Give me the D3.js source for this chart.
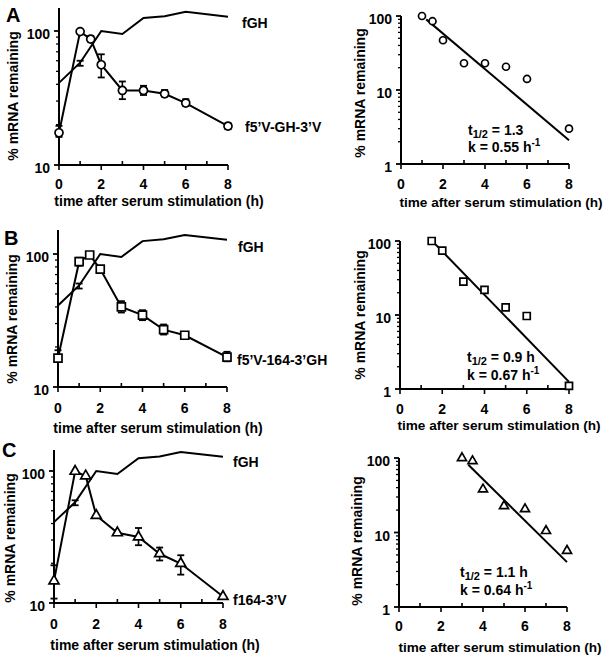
<!DOCTYPE html>
<html><head><meta charset="utf-8">
<script src="https://cdn.jsdelivr.net/npm/d3@7"></script>
<style>
body{margin:0;background:#fff;}
text{font-family:"Liberation Sans",Arial,Helvetica,sans-serif;font-weight:bold;fill:#000;}
</style></head>
<body><svg id="c" width="609" height="662"></svg>
<script>
// ---------- DATA ----------
const hours = [0, 1, 1.5, 2, 3, 4, 5, 6, 8];
const fghHours = [0, 1, 2, 3, 4, 5, 6, 8];
const fghValues = [41, 58, 100, 95, 125, 129, 139, 128];
const fghErrLow = [null, 55, null, null, null, null, null, null];
const fghErrHigh = [null, 60, null, null, null, null, null, null];

const aValues = [17.4, 99, 87, 56, 36, 36, 34, 29, 19.5];
const aErrLow = [16.2, null, 83, 45, 31, 33.3, 32.4, 27.6, 18.5];
const aErrHigh = [19.6, null, 92, 67, 42, 39, 36.3, 31, 20.5];

const bValues = [16.5, 87.5, 98.3, 77, 40, 34.7, 27, 24.5, 16.8];
const bErrLow = [15.4, 81.7, null, null, 36.3, 31.8, 24.8, null, 15.6];
const bErrHigh = [18.9, 93.8, null, null, 44.2, 37.8, 29.5, null, 18.4];

const cValues = [14.7, 99.4, 91.7, 46, 34, 31.6, 23.6, 19.9, 11.2];
const cErrLow = [10.8, null, null, null, null, 27.4, 21, 16.4, null];
const cErrHigh = [19.3, null, null, null, null, 37, 26.3, 23, null];

const rAHours = [1, 1.5, 2, 3, 4, 5, 6, 8];
const rAValues = [100, 85, 47, 23, 23, 20.6, 14.1, 3.0];
const rBHours = [1.5, 2, 3, 4, 5, 6, 8];
const rBValues = [100, 74, 28.2, 21.8, 12.7, 9.7, 1.1];
const rCHours = [3, 3.5, 4, 5, 6, 7, 8];
const rCValues = [100, 91, 38, 22.7, 20.6, 10.5, 5.7];

const fitAHours = [1.2, 8], fitAValues = [90, 2.1];
const fitBHours = [1.6, 8], fitBValues = [95, 1.25];
const fitCHours = [3.3, 8], fitCValues = [81, 4.0];

const xTicks = [0, 2, 4, 6, 8];
const xMinor = [1, 3, 5, 7];
const leftYTicks = [10, 100];
const rightYTicks = [1, 10, 100];
const seriesNames = ["f5’V-GH-3’V", "f5’V-164-3’GH", "f164-3’V"];
const halfLives = ["1.3", "0.9 h", "1.1 h"];
const rates = ["0.55", "0.67", "0.64"];
const panelLetters = ["A", "B", "C"];
const xTitle = "time after serum stimulation (h)";
const yTitle = "% mRNA remaining";

// ---------- DRAW ----------
const svg = d3.select("#c");

function marker(g, type, x, y, size) {
  let sym;
  if (type === "circle") sym = d3.symbol(d3.symbolCircle, Math.PI * size * size / 4);
  else if (type === "square") sym = d3.symbol(d3.symbolSquare, size * size);
  else sym = d3.symbol(d3.symbolTriangle, Math.sqrt(3) / 4 * size * size);
  g.append("path").attr("d", sym()).attr("transform", `translate(${x},${y})`)
    .attr("fill", "#fff").attr("stroke", "#000").attr("stroke-width", 1.7);
}

function xAxis(g, x, yBase, labelY) {
  g.append("line").attr("x1", x(0)).attr("x2", x(8)).attr("y1", yBase).attr("y2", yBase)
    .attr("stroke", "#000").attr("stroke-width", 2);
  xTicks.forEach(t => g.append("line").attr("x1", x(t)).attr("x2", x(t)).attr("y1", yBase).attr("y2", yBase + 5)
    .attr("stroke", "#000").attr("stroke-width", 1.6));
  xMinor.forEach(t => g.append("line").attr("x1", x(t)).attr("x2", x(t)).attr("y1", yBase).attr("y2", yBase - 4)
    .attr("stroke", "#000").attr("stroke-width", 1.6));
  xTicks.forEach(t => g.append("text").attr("x", x(t)).attr("y", labelY).attr("text-anchor", "middle")
    .attr("dominant-baseline", "central").attr("font-size", 14).text(t));
}

function yAxis(g, y, xBase, lo, hi, topPx, majors, labelDx) {
  g.append("line").attr("x1", xBase).attr("x2", xBase).attr("y1", y(lo)).attr("y2", topPx)
    .attr("stroke", "#000").attr("stroke-width", 2);
  for (let d = lo; d < hi; d *= 10) {
    for (let m = 2; m <= 9; m++) {
      const v = d * m;
      g.append("line").attr("x1", xBase).attr("x2", xBase - 3).attr("y1", y(v)).attr("y2", y(v))
        .attr("stroke", "#000").attr("stroke-width", 1.3);
    }
  }
  majors.forEach(v => {
    g.append("line").attr("x1", xBase).attr("x2", xBase - 5).attr("y1", y(v)).attr("y2", y(v))
      .attr("stroke", "#000").attr("stroke-width", 1.8);
    g.append("text").attr("x", xBase - labelDx).attr("y", y(v) + 3).attr("text-anchor", "end")
      .attr("dominant-baseline", "central").attr("font-size", 14).text(v);
  });
}

function errBar(g, x, y, xv, lo, hi) {
  if (lo == null) return;
  const cx = x(xv);
  g.append("line").attr("x1", cx).attr("x2", cx).attr("y1", y(lo)).attr("y2", y(hi)).attr("stroke", "#000").attr("stroke-width", 1.6);
  [lo, hi].forEach(v => g.append("line").attr("x1", cx - 3.5).attr("x2", cx + 3.5).attr("y1", y(v)).attr("y2", y(v))
    .attr("stroke", "#000").attr("stroke-width", 1.8));
}

const leftCfg = [
  {x0: 59, x8: 228, y10: 165, y100: 31, top: 8, tickY: 184, titleX: 159, titleY: 201, ylX: 13, ylY: 96,
   letterX: 6, letterY: 22, fghX: 242, fghY: 23, nameX: 245, nameY: 127, values: aValues, lo: aErrLow, hi: aErrHigh, m: "circle"},
  {x0: 58, x8: 227, y10: 387, y100: 254, top: 230, tickY: 408, titleX: 158, titleY: 428, ylX: 12, ylY: 319,
   letterX: 4, letterY: 245, fghX: 238, fghY: 247, nameX: 237, nameY: 360, values: bValues, lo: bErrLow, hi: bErrHigh, m: "square"},
  {x0: 54, x8: 223, y10: 603, y100: 471, top: 450, tickY: 624, titleX: 155, titleY: 645, ylX: 10, ylY: 538,
   letterX: 2, letterY: 457, fghX: 233, fghY: 462, nameX: 233, nameY: 600, values: cValues, lo: cErrLow, hi: cErrHigh, m: "triangle"}
];

leftCfg.forEach((c, i) => {
  const g = svg.append("g");
  const x = d3.scaleLinear().domain([0, 8]).range([c.x0, c.x8]);
  const y = d3.scaleLog().domain([10, 100]).range([c.y10, c.y100]);
  yAxis(g, y, c.x0, 10, 100, c.top, leftYTicks, 9);
  xAxis(g, x, c.y10, c.tickY);
  const line = d3.line().x(d => x(d[0])).y(d => y(d[1]));
  g.append("path").attr("d", line(fghHours.map((h, j) => [h, fghValues[j]])))
    .attr("fill", "none").attr("stroke", "#000").attr("stroke-width", 2);
  fghHours.forEach((h, j) => errBar(g, x, y, h, fghErrLow[j], fghErrHigh[j]));
  g.append("path").attr("d", line(hours.map((h, j) => [h, c.values[j]])))
    .attr("fill", "none").attr("stroke", "#000").attr("stroke-width", 2);
  hours.forEach((h, j) => errBar(g, x, y, h, c.lo[j], c.hi[j]));
  hours.forEach((h, j) => marker(g, c.m, x(h), y(c.values[j]), c.m === "triangle" ? 10 : 8));
  g.append("text").attr("x", c.fghX).attr("y", c.fghY).attr("dominant-baseline", "central").attr("font-size", 14).text("fGH");
  g.append("text").attr("x", c.nameX).attr("y", c.nameY).attr("dominant-baseline", "central").attr("font-size", 14).text(seriesNames[i]);
  g.append("text").attr("x", c.letterX).attr("y", c.letterY).attr("font-size", 20).text(panelLetters[i]);
  g.append("text").attr("x", c.titleX).attr("y", c.titleY).attr("text-anchor", "middle").attr("dominant-baseline", "central")
    .attr("font-size", 14).text(xTitle);
  g.append("text").attr("transform", `translate(${c.ylX},${c.ylY}) rotate(-90)`).attr("text-anchor", "middle")
    .attr("dominant-baseline", "central").attr("font-size", 14).text(yTitle);
});

const rightCfg = [
  {x0: 401, x8: 569, y1: 164, y100: 16, tickY: 184, titleX: 501, titleY: 202, ylX: 360, ylY: 93, tX: 468, tY: 130, kY: 147,
   hrs: rAHours, vals: rAValues, fh: fitAHours, fv: fitAValues, m: "circle"},
  {x0: 400, x8: 569, y1: 389, y100: 241, tickY: 409, titleX: 499, titleY: 425, ylX: 360, ylY: 315, tX: 467, tY: 357, kY: 375,
   hrs: rBHours, vals: rBValues, fh: fitBHours, fv: fitBValues, m: "square"},
  {x0: 399, x8: 567, y1: 607, y100: 458, tickY: 626, titleX: 500, titleY: 647, ylX: 357, ylY: 541, tX: 460, tY: 572, kY: 590,
   hrs: rCHours, vals: rCValues, fh: fitCHours, fv: fitCValues, m: "triangle"}
];

rightCfg.forEach((c, i) => {
  const g = svg.append("g");
  const x = d3.scaleLinear().domain([0, 8]).range([c.x0, c.x8]);
  const y = d3.scaleLog().domain([1, 100]).range([c.y1, c.y100]);
  yAxis(g, y, c.x0, 1, 100, c.y100, rightYTicks, 9);
  xAxis(g, x, c.y1, c.tickY);
  const line = d3.line().x(d => x(d[0])).y(d => y(d[1]));
  g.append("path").attr("d", line(c.fh.map((h, j) => [h, c.fv[j]])))
    .attr("fill", "none").attr("stroke", "#000").attr("stroke-width", 2);
  c.hrs.forEach((h, j) => marker(g, c.m, x(h), y(c.vals[j]), c.m === "triangle" ? 9 : 7));
  const t = g.append("text").attr("x", c.tX).attr("y", c.tY).attr("font-size", 14).attr("dominant-baseline", "central");
  t.append("tspan").text("t");
  t.append("tspan").attr("font-size", 11).attr("dy", 4).text("1/2");
  t.append("tspan").attr("dy", -4).text(" = " + halfLives[i]);
  const k = g.append("text").attr("x", c.tX).attr("y", c.kY).attr("font-size", 14).attr("dominant-baseline", "central");
  k.append("tspan").text("k = " + rates[i] + " h");
  k.append("tspan").attr("font-size", 10).attr("dy", -5).text("-1");
  g.append("text").attr("x", c.titleX).attr("y", c.titleY).attr("text-anchor", "middle").attr("dominant-baseline", "central")
    .attr("font-size", 13.6).text(xTitle);
  g.append("text").attr("transform", `translate(${c.ylX},${c.ylY}) rotate(-90)`).attr("text-anchor", "middle")
    .attr("dominant-baseline", "central").attr("font-size", 14).text(yTitle);
});
</script></body></html>
